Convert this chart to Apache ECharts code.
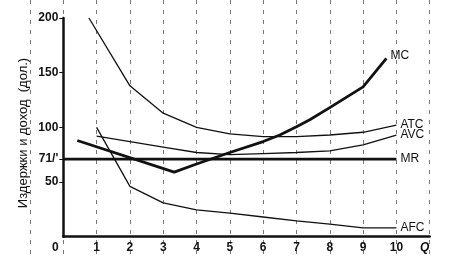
<!DOCTYPE html>
<html><head><meta charset="utf-8">
<script src="https://cdn.jsdelivr.net/npm/echarts@6/dist/echarts.min.js"></script>
<style>html,body{margin:0;padding:0;background:#fff}#c{width:454px;height:260px}</style>
</head><body><div id="c"></div>
<script>
// ---- data ----
const xTickLabels = ['0','1','2','3','4','5','6','7','8','9','10','Q'];
const yTickValues = [50, 71, 100, 150, 200];
const yTickLabels = ['50', "71/'", '100', '150', '200'];
const yTitle = 'Издержки и доход  (дол.)';

const atcQ = [0.77, 2, 3, 4, 5, 6, 7, 8, 9, 10];
const atcCost = [200, 138, 113, 100, 94, 91.5, 91.5, 93, 95.5, 102];
const avcQ = [1, 2, 3, 4, 5, 6, 7, 8, 9, 10];
const avcCost = [92, 87, 82, 77, 75, 76, 77, 78.5, 84, 93];
const afcQ = [1, 2, 3, 4, 5, 6, 7, 8, 9, 10];
const afcCost = [100, 46, 31, 24.5, 21.5, 18, 14.5, 11.5, 8, 8];
const mcQ = [0.42, 3.33, 4, 5, 6, 6.5, 7, 7.4, 8, 9, 9.7];
const mcCost = [88, 59, 66.5, 77, 87, 93, 100.6, 107, 118, 137, 163];
const mrQ = [0, 10];
const mrRev = [71, 71];

const pairs = (xs, ys) => xs.map((x, i) => [x, ys[i]]);
const FONT = '"Liberation Sans", Arial, sans-serif';
const INK = '#111';

function line(name, xs, ys, width, off) {
  return {
    name, type: 'line', xAxisIndex: 0, yAxisIndex: 0,
    data: pairs(xs, ys), showSymbol: false, symbol: 'none',
    lineStyle: { color: INK, width }, z: 5,
    endLabel: { show: true, formatter: '{a}', color: INK, fontSize: 12, fontFamily: FONT,
      distance: 4, offset: off || [0, 0] }
  };
}

const chart = echarts.init(document.getElementById('c'), null, { renderer: 'canvas' });
chart.setOption({
  animation: false,
  backgroundColor: '#fff',
  grid: [
    { left: 63.3, right: 24.3, top: 18, bottom: 23.3 },
    { left: 30, right: 24.3, top: 0, bottom: 0 }
  ],
  graphic: [{
    type: 'text', x: 23, y: 133, rotation: Math.PI / 2,
    style: { text: yTitle, fill: INK, font: '13px "Liberation Sans", Arial, sans-serif',
      textAlign: 'center', textVerticalAlign: 'middle' }
  }],
  xAxis: [
    { type: 'value', gridIndex: 0, min: 0, max: 11, interval: 1,
      axisLine: { show: true, lineStyle: { color: INK, width: 2.5 } },
      axisTick: { show: false },
      splitLine: { show: false },
      axisLabel: {
        show: true, showMinLabel: true, showMaxLabel: true, margin: 5,
        color: INK, fontSize: 12, fontWeight: 'bold', fontFamily: FONT,
        formatter: v => {
          const t = xTickLabels[v];
          if (v === 0) return '{z|' + t + '}';
          if (v === 11) return '{q|' + t + '}';
          return t;
        },
        rich: {
          z: { padding: [0, 16, 0, 0], color: INK, fontSize: 12, fontWeight: 'bold', fontFamily: FONT },
          q: { padding: [0, 10, 0, 0], color: INK, fontSize: 12, fontStyle: 'italic', fontFamily: FONT }
        }
      }
    },
    { type: 'value', gridIndex: 1, min: -1, max: 11, interval: 1,
      axisLine: { show: false }, axisTick: { show: false }, axisLabel: { show: false },
      splitLine: { show: true, lineStyle: { color: '#777', width: 1, type: [4, 6] } }
    }
  ],
  yAxis: [
    { type: 'value', gridIndex: 0, min: 0, max: 200, interval: 50,
      axisLine: { show: true, onZero: false, lineStyle: { color: INK, width: 2.5 } },
      axisTick: { show: true, length: 4, customValues: yTickValues, lineStyle: { color: INK, width: 1 } },
      splitLine: { show: false },
      axisLabel: {
        show: true, margin: 5, customValues: yTickValues,
        color: INK, fontSize: 12, fontWeight: 'bold', fontFamily: FONT,
        formatter: v => { const i = yTickValues.indexOf(v); return i >= 0 ? yTickLabels[i] : ''; }
      }
    },
    { type: 'value', gridIndex: 1, min: 0, max: 1, show: false }
  ],
  series: [
    line('ATC', atcQ, atcCost, 1.3),
    line('AVC', avcQ, avcCost, 1.3),
    line('AFC', afcQ, afcCost, 1.3),
    line('MR', mrQ, mrRev, 2.8),
    line('MC', mcQ, mcCost, 2.8, [0, -3])
  ]
});
</script>
</body></html>
